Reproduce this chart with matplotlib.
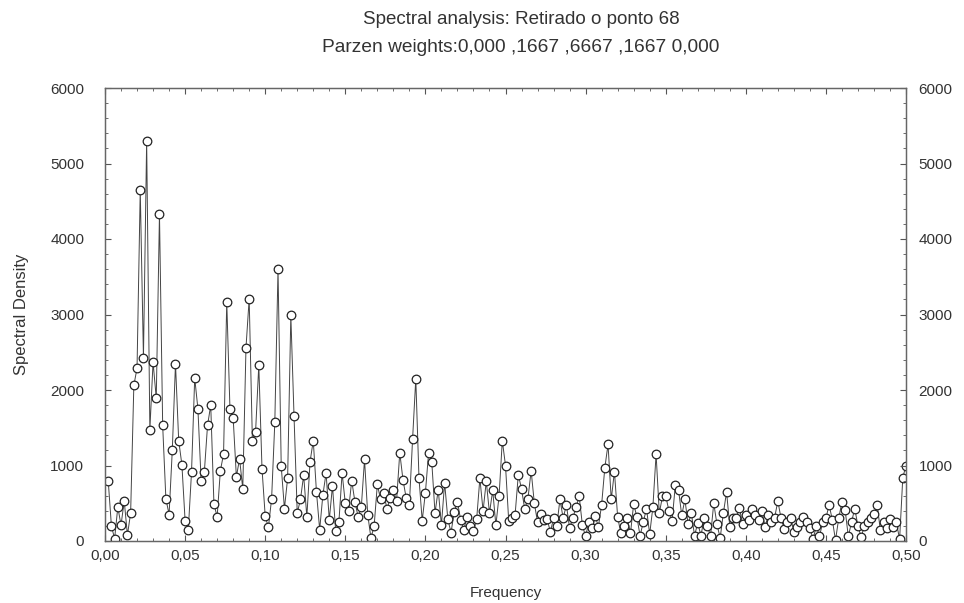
import numpy as np
import matplotlib
matplotlib.use("Agg")
import matplotlib.pyplot as plt
from matplotlib.ticker import MultipleLocator, FuncFormatter

# Spectral density estimates (Parzen-smoothed periodogram), k = 1..250
density_low = [
    800, 200, 30, 450, 210, 530, 80, 370, 2060, 2290,
    4650, 2430, 5300, 1470, 2370, 1890, 4330, 1530, 560, 350,
    1200, 2350, 1330, 1010, 270, 150, 910, 2160, 1750, 800,
    910, 1530, 1800, 490, 320, 930, 1150, 3170, 1750, 1630,
    850, 1090, 690, 2560, 3210, 1330, 1450, 2330, 960, 330,
    180, 560, 1570, 3600, 990, 430, 830, 2990, 1650, 370,
    550, 870, 320, 1050, 1330, 650, 150, 610, 900, 280,
    730, 130, 250, 900, 500,
]
density_mid = [
    400, 800, 520, 320, 450, 1080, 350, 40, 200, 750,
    550, 640, 420, 570, 680, 530, 1170, 810, 570, 480,
    1350, 2150, 830, 270, 640, 1170, 1040, 370, 680, 210,
    770, 290, 110, 390, 520, 280, 150, 320, 200, 130,
    290, 830, 400, 790, 370, 670, 210, 600, 1330, 1000,
    270, 310, 350, 880, 690, 420, 560, 930, 500, 250,
    360, 280, 290, 120, 300, 200, 550, 300, 480, 170,
    300, 450, 590, 210, 60, 250, 170, 330, 190, 480,
    970, 1280, 550, 920, 320, 100, 200, 300, 100, 490,
    320,
]
density_high = [
    70, 250, 430, 90, 450, 1150, 370, 590, 600, 400,
    270, 740, 680, 340, 550, 220, 370, 70, 240, 70,
    300, 200, 70, 500, 220, 40, 370, 650, 190, 300,
    310, 440, 220, 350, 280, 430, 350, 280, 400, 190,
    340, 250, 310, 530, 300, 160, 250, 310, 120, 190,
    250, 320, 250, 170, 20, 200, 60, 250, 300, 480,
    280, 10, 300, 520, 410, 60, 250, 430, 200, 50,
    200, 250, 300, 360, 480, 140, 250, 170, 290, 190,
    250, 20, 840, 1000,
]
density = np.array(density_low + density_mid + density_high, dtype=float)
n_obs = 2 * len(density)
frequency = np.arange(1, len(density) + 1) / n_obs

title_lines = ["Spectral analysis: Retirado o ponto 68",
               "Parzen weights:0,000 ,1667 ,6667 ,1667 0,000"]
x_ticks = [0.00, 0.05, 0.10, 0.15, 0.20, 0.25, 0.30, 0.35, 0.40, 0.45, 0.50]
y_ticks = [0, 1000, 2000, 3000, 4000, 5000, 6000]

plt.rcParams["font.family"] = ["Liberation Sans", "DejaVu Sans"]
text_color = "#333333"
tick_color = "#555555"

fig = plt.figure(figsize=(9.64, 6.03), dpi=100)
ax = fig.add_axes([105 / 964, 1 - 541 / 603, 801 / 964, 453 / 603])

ax.plot(frequency, density, color="#444444", linewidth=0.7,
        marker="o", markersize=6.2, markerfacecolor="white",
        markeredgecolor="#222222", markeredgewidth=0.9)

ax.set_xlim(0, 0.5)
ax.set_ylim(0, 6000)
ax.set_xticks(x_ticks)
ax.set_yticks(y_ticks)
ax.xaxis.set_major_formatter(FuncFormatter(lambda v, p: f"{v:.2f}".replace(".", ",")))
ax.yaxis.set_minor_locator(MultipleLocator(200))
ax.xaxis.set_minor_locator(MultipleLocator(0.01))

ax.tick_params(axis="both", which="both", direction="in", top=True, right=True,
               colors=tick_color, labelcolor=text_color, labelsize=11)
ax.tick_params(axis="both", which="major", length=4, width=0.8)
ax.tick_params(axis="both", which="minor", length=2, width=0.6)
ax.tick_params(axis="x", which="major", pad=6)
ax.tick_params(axis="y", which="major", pad=15)

# Mirrored density scale on the right-hand side
ax_right = ax.twinx()
ax_right.set_ylim(ax.get_ylim())
ax_right.set_yticks(y_ticks)
ax_right.yaxis.set_minor_locator(MultipleLocator(200))
ax_right.tick_params(axis="y", which="both", direction="in", colors=tick_color,
                     labelcolor=text_color, labelsize=11)
ax_right.tick_params(axis="y", which="major", length=4, width=0.8, pad=9)
ax_right.tick_params(axis="y", which="minor", length=2, width=0.6)

for a in (ax, ax_right):
    for side in a.spines.values():
        side.set_color("#666666")
        side.set_linewidth(0.9)

ax.set_xlabel("Frequency", fontsize=11, color=text_color, labelpad=16)
ax.set_ylabel("Spectral Density", fontsize=12, color=text_color, labelpad=15)

cx = 521 / 964
fig.text(cx, 1 - 19 / 603, title_lines[0], ha="center", va="center",
         fontsize=13.5, color=text_color)
fig.text(cx, 1 - 48 / 603, title_lines[1], ha="center", va="center",
         fontsize=13.8, color=text_color)

fig.savefig("out.png", dpi=100, facecolor="white")
